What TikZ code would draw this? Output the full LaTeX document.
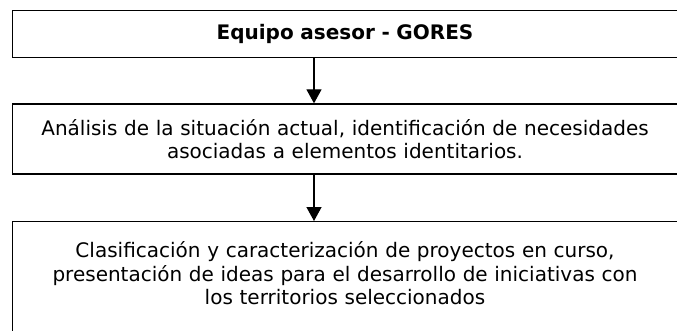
\documentclass[tikz,border=0pt]{standalone}
\usepackage{fontspec}
\setmainfont{DejaVu Sans}
\usetikzlibrary{arrows.meta}
\usetikzlibrary{positioning}
\tikzstyle{arrow} = [line width=1.3pt,-{Triangle[width=15pt,length=14pt]}]

\begin{document}
\begin{tikzpicture}[x=1pt,y=1pt,
		box/.style = {draw, line width=1.3pt, minimum width=665pt, text width=655pt,
			align=center, inner sep=0pt, font=\fontsize{20}{23.5}\selectfont}]

		\useasboundingbox (0,0) rectangle (677,330);

		% Equipo asesor
		\node[box,minimum height=46.6pt,font=\fontsize{20}{23.5}\selectfont\bfseries] (equipo) at (345,296) {Equipo asesor - GORES};

		% Analisis
		\node[box,minimum height=70pt] (analisis) at (345,191) {Análisis de la situación actual, identificación de necesidades\\ asociadas a elementos identitarios.};

		% Clasificacion
		\node[box,anchor=north,inner ysep=20pt,text depth=90pt] (clasif) at (345,109) {Clasificación y caracterización de proyectos en curso,\\ presentación de ideas para el desarrollo de iniciativas con\\ los territorios seleccionados};

		% Arrows
		\coordinate (ax) at (314,0);
		\draw[arrow] (ax |- equipo.south) -- (ax |- analisis.north);
		\draw[arrow] (ax |- analisis.south) -- (ax |- clasif.north);
\end{tikzpicture}
\end{document}
